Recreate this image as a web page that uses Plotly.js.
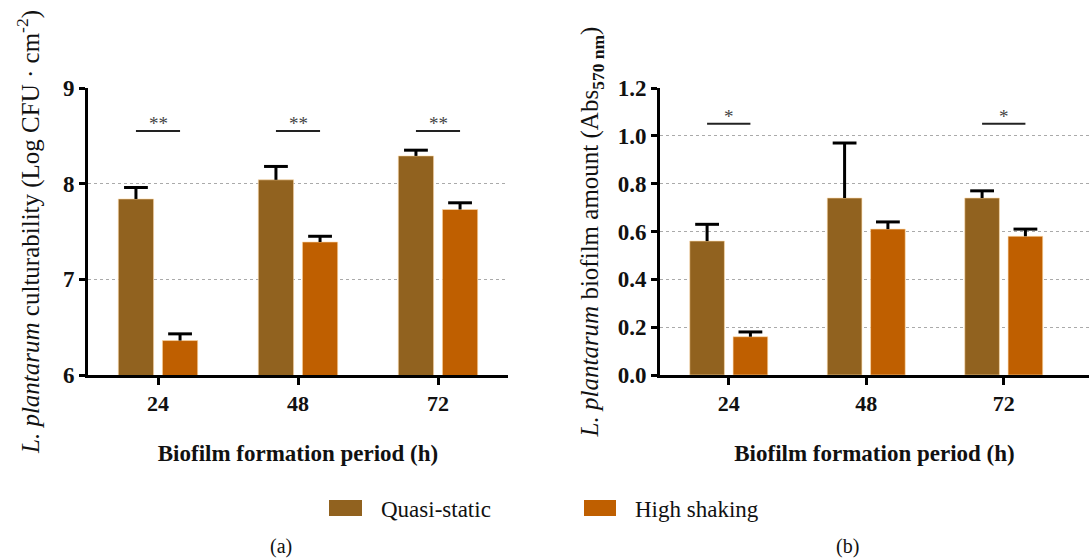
<!DOCTYPE html>
<html>
<head>
<meta charset="utf-8">
<script src="https://cdn.plot.ly/plotly-3.0.1.min.js"></script>
<style>html,body{margin:0;padding:0;background:#fff}#chart{width:1089px;height:558px}</style>
</head>
<body>
<div id="chart"></div>
<script>
// ---- data ----
const categories = ['24', '48', '72'];
const seriesNames = ['Quasi-static', 'High shaking'];
// panel (a): culturability (Log CFU · cm^-2)
const aQuasi = [7.84, 8.04, 8.29];
const aQuasiErr = [0.12, 0.14, 0.06];
const aShake = [6.36, 7.39, 7.73];
const aShakeErr = [0.07, 0.06, 0.07];
const aSig = ['**', '**', '**'];
const aSigLevel = 8.55;
// panel (b): biofilm amount (Abs 570 nm)
const bQuasi = [0.56, 0.74, 0.74];
const bQuasiErr = [0.07, 0.23, 0.03];
const bShake = [0.16, 0.61, 0.58];
const bShakeErr = [0.02, 0.03, 0.03];
const bSig = ['*', '', '*'];
const bSigLevel = 1.05;
const aTicks = [6, 7, 8, 9];
const bTicks = [0, 0.2, 0.4, 0.6, 0.8, 1.0, 1.2];

// ---- style ----
const FONT = 'Palatino Linotype, Book Antiqua, Palatino, Liberation Serif, serif';
const colQuasi = '#91621F';
const colShake = '#BF5F00';
const W = 1089, H = 558;
const BARGAP = 0.37, BARGROUPGAP = 0.2;
const idx = categories.map((_, i) => i);
const slot = (1 - BARGAP) / 2;            // width of each bar slot in category units
const offsets = [-slot / 2, slot / 2];     // centre of each series within a group

function bar(y, err, name, color, xa, ya) {
  return {
    type: 'bar', x: idx, y: y, name: name, xaxis: xa, yaxis: ya,
    marker: {color: color, line: {color: 'rgba(255,220,170,0.6)', width: 1}},
    error_y: {type: 'data', symmetric: false, array: err, arrayminus: err.map(() => 0),
              color: '#000', thickness: 3, width: 0},
    showlegend: false, hoverinfo: 'y'
  };
}
function caps(y, err, k, xa, ya) {
  return {
    type: 'scatter', mode: 'markers', xaxis: xa, yaxis: ya,
    x: idx.map(i => i + offsets[k]), y: y.map((v, i) => v + err[i]),
    marker: {symbol: 'line-ew', size: 17, color: '#000', line: {color: '#000', width: 3}},
    showlegend: false, hoverinfo: 'skip', cliponaxis: false
  };
}

const data = [
  bar(aQuasi, aQuasiErr, seriesNames[0], colQuasi, 'x', 'y'),
  bar(aShake, aShakeErr, seriesNames[1], colShake, 'x', 'y'),
  bar(bQuasi, bQuasiErr, seriesNames[0], colQuasi, 'x2', 'y2'),
  bar(bShake, bShakeErr, seriesNames[1], colShake, 'x2', 'y2'),
  caps(aQuasi, aQuasiErr, 0, 'x', 'y'),
  caps(aShake, aShakeErr, 1, 'x', 'y'),
  caps(bQuasi, bQuasiErr, 0, 'x2', 'y2'),
  caps(bShake, bShakeErr, 1, 'x2', 'y2')
];

const shapes = [];
const annotations = [];
function addSig(sig, level, xa, ya) {
  sig.forEach((s, i) => {
    if (!s) return;
    shapes.push({type: 'line', xref: xa, yref: ya, x0: i + offsets[0], x1: i + offsets[1], y0: level, y1: level,
                 line: {color: '#222', width: 2}});
    annotations.push({xref: xa, yref: ya, x: i, y: level, text: s, showarrow: false,
                      yanchor: 'bottom', yshift: -5, font: {family: FONT, size: 19, color: '#444'}});
  });
}
addSig(aSig, aSigLevel, 'x', 'y');
addSig(bSig, bSigLevel, 'x2', 'y2');

// legend (drawn as swatches + text)
const legendItems = [
  {name: seriesNames[0], color: colQuasi, x0: 329, x1: 362, tx: 379},
  {name: seriesNames[1], color: colShake, x0: 584, x1: 616, tx: 633}
];
legendItems.forEach(it => {
  shapes.push({type: 'rect', xref: 'paper', yref: 'paper', x0: it.x0 / W, x1: it.x1 / W,
               y0: 1 - 516 / H, y1: 1 - 500 / H, fillcolor: it.color, line: {width: 0}});
  annotations.push({xref: 'paper', yref: 'paper', x: it.tx / W, y: 1 - 509 / H, text: it.name,
                    showarrow: false, xanchor: 'left', yanchor: 'middle',
                    font: {family: FONT, size: 23, color: '#111'}});
});
annotations.push({xref: 'paper', yref: 'paper', x: 281 / W, y: 1 - 546 / H, text: '(a)', showarrow: false,
                  xanchor: 'center', yanchor: 'middle', font: {family: FONT, size: 20, color: '#111'}});
annotations.push({xref: 'paper', yref: 'paper', x: 847 / W, y: 1 - 546 / H, text: '(b)', showarrow: false,
                  xanchor: 'center', yanchor: 'middle', font: {family: FONT, size: 20, color: '#111'}});

const yTop = 1 - 88 / H, yBot = 1 - 375 / H;
function xaxis(domain, range, anchor) {
  return {
    domain: domain, range: range, anchor: anchor, type: 'linear',
    tickvals: idx, ticktext: categories,
    showline: true, linecolor: '#000', linewidth: 3,
    ticks: 'outside', ticklen: 7, tickwidth: 3, tickcolor: '#000',
    tickfont: {family: FONT, size: 22, color: '#111', weight: 'bold'},
    showgrid: false, zeroline: false, automargin: false,
    title: {text: 'Biofilm formation period (h)', standoff: 30,
            font: {family: FONT, size: 23, color: '#111', weight: 'bold'}}
  };
}
function yaxis(range, ticks, anchor, title, standoff, fmt) {
  return {
    domain: [yBot, yTop], range: range, anchor: anchor,
    tickvals: ticks, ticktext: ticks.map(fmt),
    showline: true, linecolor: '#000', linewidth: 3,
    ticks: 'outside', ticklen: 6, tickwidth: 3, tickcolor: '#000',
    tickfont: {family: FONT, size: 23, color: '#111', weight: 'bold'},
    showgrid: true, gridcolor: '#aaa', griddash: 'dot', gridwidth: 1,
    zeroline: false, automargin: false,
    title: {text: title, standoff: standoff, font: {family: FONT, size: 25, color: '#111'}}
  };
}

const layout = {
  width: W, height: H,
  margin: {l: 0, r: 0, t: 0, b: 0},
  paper_bgcolor: '#fff', plot_bgcolor: '#fff',
  barmode: 'group', bargap: BARGAP, bargroupgap: BARGROUPGAP,
  showlegend: false,
  xaxis: xaxis([88 / W, 508 / W], [-0.5, 2.5], 'y'),
  yaxis: yaxis([6, 9], aTicks, 'x', '<i>L. plantarum</i> culturability (Log CFU · cm<sup>-2</sup>)', 17, v => String(v)),
  xaxis2: xaxis([660 / W, 1], [-0.5, 2.62], 'y2'),
  yaxis2: yaxis([0, 1.2], bTicks, 'x2', '<i>L. plantarum</i> biofilm amount (Abs<sub><b>570 nm</b></sub>)', 12, v => v.toFixed(1)),
  shapes: shapes,
  annotations: annotations
};

Plotly.newPlot('chart', data, layout, {displayModeBar: false, staticPlot: true});
</script>
</body>
</html>
